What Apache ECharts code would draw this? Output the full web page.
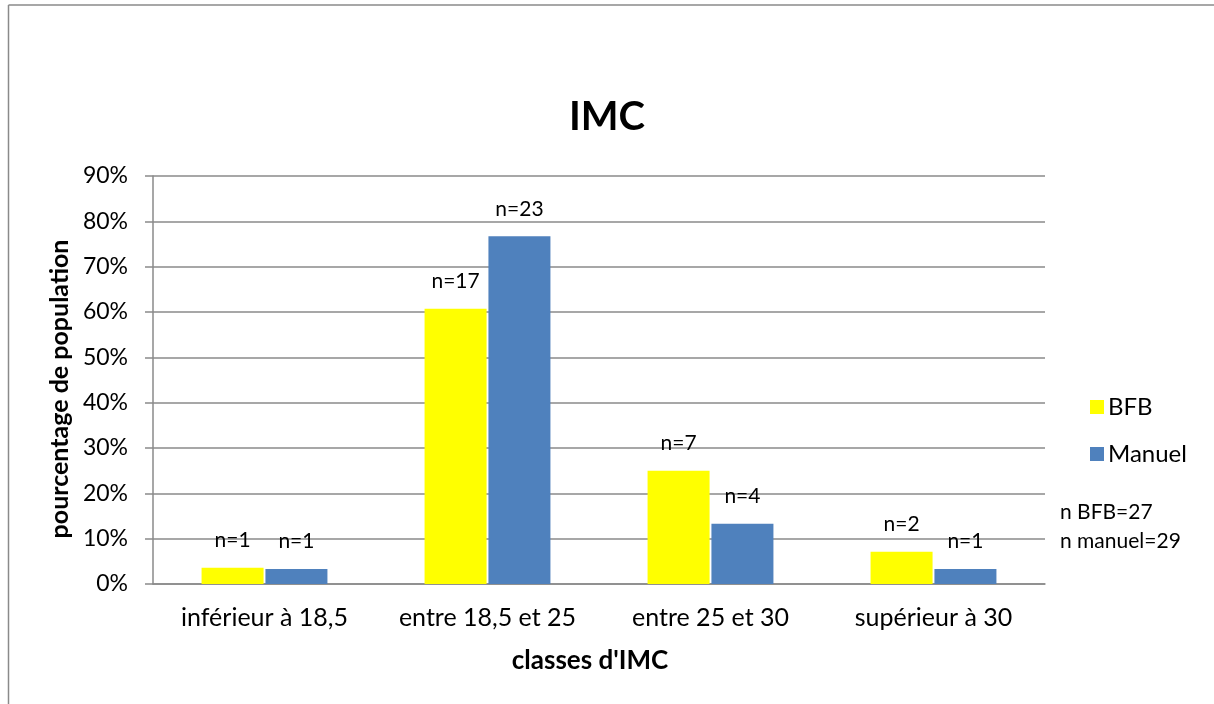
<!DOCTYPE html>
<html>
<head>
<meta charset="utf-8">
<script src="https://cdn.jsdelivr.net/npm/echarts@6/dist/echarts.min.js"></script>
<style>
html,body{margin:0;padding:0;background:#fff;}
#c{width:1214px;height:704px;}
</style>
</head>
<body>
<div id="c"></div>
<script>
const categories = ['inférieur à 18,5', 'entre 18,5 et 25', 'entre 25 et 30', 'supérieur à 30'];
const seriesNames = ['BFB', 'Manuel'];
const bfbValues = [3.6, 60.7, 25.0, 7.1];
const manuelValues = [3.3, 76.7, 13.3, 3.3];
const bfbCounts = ['n=1', 'n=17', 'n=7', 'n=2'];
const manuelCounts = ['n=1', 'n=23', 'n=4', 'n=1'];
const totalsText = ['n BFB=27', 'n manuel=29'];
const yTicks = {min: 0, max: 90, interval: 10};

const FONT = 'Lato';
const chart = echarts.init(document.getElementById('c'), null, {renderer: 'canvas'});
const gridColor = '#8a8a8a';

function barSeries(name, values, labels, color) {
  return {
    name: name,
    type: 'bar',
    data: values,
    barWidth: 62,
    barGap: '3%',
    itemStyle: {color: color},
    label: {
      show: true,
      position: 'top',
      distance: 17,
      fontFamily: FONT,
      fontSize: 21,
      color: '#000',
      formatter: p => labels[p.dataIndex]
    }
  };
}

chart.setOption({
  animation: false,
  backgroundColor: '#fff',
  title: {
    text: 'IMC',
    left: 'center',
    top: 92,
    textStyle: {fontFamily: FONT, fontWeight: 'bold', fontSize: 40, color: '#000'}
  },
  legend: {
    orient: 'vertical',
    left: 1085,
    top: 390,
    itemWidth: 14,
    itemHeight: 14,
    itemGap: 23,
    icon: 'rect',
    data: seriesNames,
    textStyle: {fontFamily: FONT, fontSize: 24, color: '#000', padding: [0,0,0,-1]}
  },
  grid: {left: 153, right: 169, top: 176, bottom: 120, containLabel: false},
  xAxis: {
    type: 'category',
    data: categories,
    name: "classes d'IMC",
    nameLocation: 'middle',
    nameGap: 64,
    nameTextStyle: {fontFamily: FONT, fontWeight: 'bold', fontSize: 26, color: '#000', padding: [0, 18, 0, 0]},
    axisLine: {lineStyle: {color: gridColor, width: 1.5}},
    axisTick: {show: false},
    axisLabel: {fontFamily: FONT, fontSize: 25, color: '#000', margin: 21, interval: 0, hideOverlap: false}
  },
  yAxis: {
    type: 'value',
    min: yTicks.min,
    max: yTicks.max,
    interval: yTicks.interval,
    name: 'pourcentage de population',
    nameLocation: 'middle',
    nameGap: 74,
    nameTextStyle: {fontFamily: FONT, fontWeight: 'bold', fontSize: 25, color: '#000', padding: [0, 18, 0, 0]},
    axisLine: {show: true, lineStyle: {color: gridColor, width: 1.5}},
    axisTick: {show: true, length: 8, lineStyle: {color: gridColor, width: 1.5}},
    splitLine: {lineStyle: {color: gridColor, width: 1.5}},
    axisLabel: {fontFamily: FONT, fontSize: 23, color: '#000', margin: 25, formatter: '{value}%'}
  },
  graphic: [
    {type: 'line', shape: {x1: 8.5, y1: 5, x2: 1214, y2: 5}, style: {stroke: '#8a8a8a', lineWidth: 1.5}},
    {type: 'line', shape: {x1: 8.5, y1: 5, x2: 8.5, y2: 704}, style: {stroke: '#8a8a8a', lineWidth: 1.5}},
    {type: 'text', left: 1060, top: 502, style: {text: totalsText[0], fontFamily: FONT, fontSize: 21, fill: '#000'}},
    {type: 'text', left: 1060, top: 531, style: {text: totalsText[1], fontFamily: FONT, fontSize: 21, fill: '#000'}}
  ],
  series: [
    barSeries(seriesNames[0], bfbValues, bfbCounts, '#FFFF00'),
    barSeries(seriesNames[1], manuelValues, manuelCounts, '#4F81BD')
  ]
});
</script>
</body>
</html>
